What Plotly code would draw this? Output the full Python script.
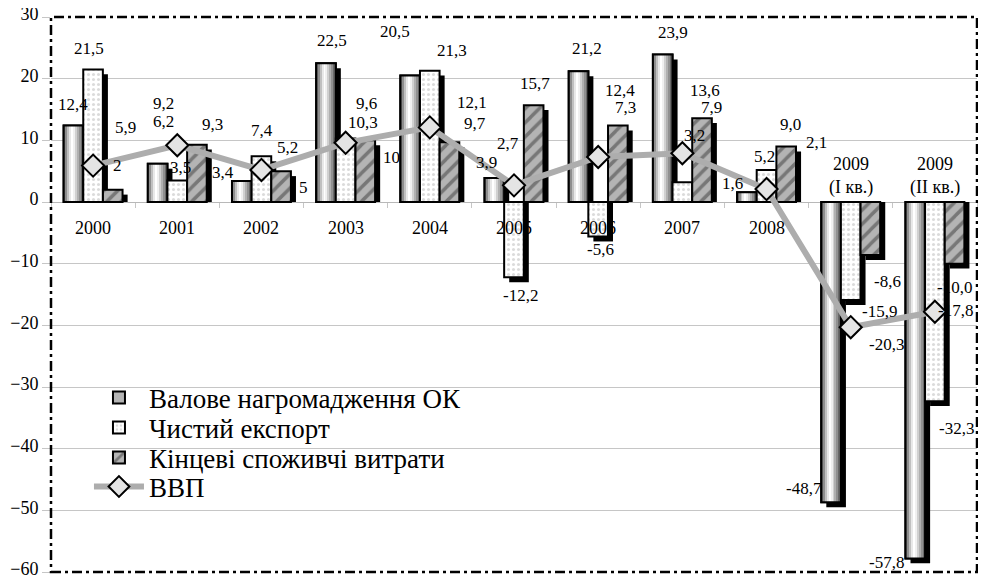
import plotly.graph_objects as go

categories = ["2000", "2001", "2002", "2003", "2004", "2005", "2006", "2007", "2008",
              "2009 (I кв.)", "2009 (II кв.)"]
category_labels = ["2000", "2001", "2002", "2003", "2004", "2005", "2006", "2007", "2008",
                   "2009<br>(I кв.)", "2009<br>(II кв.)"]

gross_capital = [12.4, 6.2, 3.4, 22.5, 20.5, 3.9, 21.2, 23.9, 1.6, -48.7, -57.8]
net_export = [21.5, 3.5, 7.4, 10.3, 21.3, -12.2, -5.6, 3.2, 5.2, -15.9, -32.3]
final_consumption = [2, 9.3, 5, 10, 9.7, 15.7, 12.4, 13.6, 9.0, -8.6, -10.0]
gdp = [5.9, 9.2, 5.2, 9.6, 12.1, 2.7, 7.3, 7.9, 2.1, -20.3, -17.8]

names = ["Валове нагромадження ОК", "Чистий експорт", "Кінцеві споживчі витрати", "ВВП"]

# label pixel shifts (dx, dy) relative to (category centre, value)
gross_shift = [(-20, 21), (-14, 42), (-38, 9), (-14, 23), (-35, 44), (-28, 15), (-11, 23),
               (-9, 22), (-34, 9), (-47, 14), (-48, -4)]
net_shift = [(-4, 21), (3, 13), (1, 26), (17, 16), (22, 20), (6, -18), (2, -13), (12, 47),
             (-2, 13), (29, -11), (22, -27)]
cons_shift = [(24, 24), (35, 20), (42, -16), (46, -17), (45, 19), (21, 22), (22, 35), (23, 28),
              (24, 22), (37, -26), (20, -24)]
gdp_shift = [(32, 38), (-14, 42), (26, 22), (21, 39), (42, 25), (-6, 42), (27, 49), (29, 46),
             (50, 47), (36, -17), (21, 1)]

FONT = "Liberation Serif, Tinos, Times New Roman, DejaVu Serif, serif"
BW = 0.233
offsets = [-0.35, -0.117, 0.117]
SH_DX = 0.06
SH_DY = 0.8

fig = go.Figure()

# shadows
for vals, off in zip([gross_capital, net_export, final_consumption], offsets):
    fig.add_trace(go.Bar(
        x=categories, y=[v - SH_DY for v in vals], offset=off + SH_DX, width=BW,
        marker=dict(color="black", line=dict(width=0)), showlegend=False, hoverinfo="skip"))

# gross capital formation: base (legend), gradient strips, outline
fig.add_trace(go.Bar(
    x=categories, y=gross_capital, offset=offsets[0], width=BW, name=names[0], legend="legend",
    marker=dict(color="#b4b4b4", line=dict(color="black", width=2))))
strip_colors = ["#6a6a6a", "#8e8e8e", "#c0c0c0", "#e8e8e8", "#ffffff", "#f0f0f0",
                "#d0d0d0", "#b0b0b0", "#909090", "#6a6a6a"]
sw = BW / len(strip_colors)
for i, c in enumerate(strip_colors):
    fig.add_trace(go.Bar(
        x=categories, y=gross_capital, offset=offsets[0] + i * sw, width=sw,
        marker=dict(color=c, line=dict(width=0)), showlegend=False, hoverinfo="skip"))
fig.add_trace(go.Bar(
    x=categories, y=gross_capital, offset=offsets[0], width=BW,
    marker=dict(color="rgba(0,0,0,0)", line=dict(color="black", width=2)),
    showlegend=False, hoverinfo="skip"))

# net export
fig.add_trace(go.Bar(
    x=categories, y=net_export, offset=offsets[1], width=BW, name=names[1], legend="legend2",
    marker=dict(color="white", line=dict(color="black", width=2),
                pattern=dict(shape=".", fgcolor="#b8b8b8", size=5, solidity=0.3))))

# final consumption
fig.add_trace(go.Bar(
    x=categories, y=final_consumption, offset=offsets[2], width=BW, name=names[2],
    legend="legend3",
    marker=dict(color="#b4b4b4", line=dict(color="black", width=2),
                pattern=dict(shape="/", fgcolor="#3a3a3a", size=10, solidity=0.35))))

# GDP line
fig.add_trace(go.Scatter(
    x=categories, y=gdp, mode="lines+markers", name=names[3], legend="legend4",
    line=dict(color="#adadad", width=6),
    marker=dict(symbol="diamond", size=17, color="#e4e4e4", line=dict(color="black", width=2))))


def fmt(v):
    return str(v).replace(".", ",")


annotations = []
for vals, shifts in [(gross_capital, gross_shift), (net_export, net_shift),
                     (final_consumption, cons_shift), (gdp, gdp_shift)]:
    for i, (v, (dx, dy)) in enumerate(zip(vals, shifts)):
        annotations.append(dict(x=i, y=v, text=fmt(v), showarrow=False, xshift=dx, yshift=dy,
                                xanchor="center", yanchor="middle",
                                font=dict(family=FONT, size=17, color="black")))

for i, lab in enumerate(category_labels):
    up = "<br>" in lab
    annotations.append(dict(x=i, y=0, text=lab, showarrow=False, yshift=26 if up else -26,
                            xanchor="center", yanchor="middle",
                            font=dict(family=FONT, size=18, color="black")))

legend_rows = [0.3135, 0.2595, 0.2054, 0.1532]
legend_common = dict(x=0.041, xanchor="left", yanchor="middle", bgcolor="rgba(0,0,0,0)",
                     font=dict(family=FONT, size=27, color="black"), itemwidth=50)

# page body has an 8px margin: figure is sized so that it fits the 986x579 window
fig.update_layout(
    width=970, height=571,
    margin=dict(l=43, r=1, t=9, b=7, autoexpand=False),
    paper_bgcolor="white", plot_bgcolor="white",
    barmode="overlay",
    font=dict(family=FONT, size=18, color="black"),
    showlegend=True,
    legend=dict(y=legend_rows[0], **legend_common),
    legend2=dict(y=legend_rows[1], **legend_common),
    legend3=dict(y=legend_rows[2], **legend_common),
    legend4=dict(y=legend_rows[3], **legend_common),
    annotations=annotations,
    shapes=[dict(type="rect", xref="paper", yref="paper", x0=0, x1=1, y0=0, y1=1,
                 line=dict(color="black", width=2.5, dash="10px,4px,3px,4px"), layer="above")],
)

fig.update_yaxes(range=[-60, 30], dtick=10, tick0=0, showgrid=True, gridcolor="#c6c6c6",
                 gridwidth=1, zeroline=True, zerolinecolor="#b8b8b8", zerolinewidth=1,
                 ticks="outside", ticklen=8, tickcolor="#c6c6c6", showline=False,
                 automargin=False, ticklabeloverflow="allow", ticklabelshift=-3,
                 tickfont=dict(family=FONT, size=18, color="black"))
fig.update_xaxes(type="category", range=[-0.5, 10.5], anchor="free", position=60 / 90,
                 showgrid=False, zeroline=False, showline=False, ticks="outside",
                 automargin=False,
                 tickson="boundaries", ticklen=5, tickcolor="#c6c6c6", showticklabels=False)

fig.write_html("out.html")
